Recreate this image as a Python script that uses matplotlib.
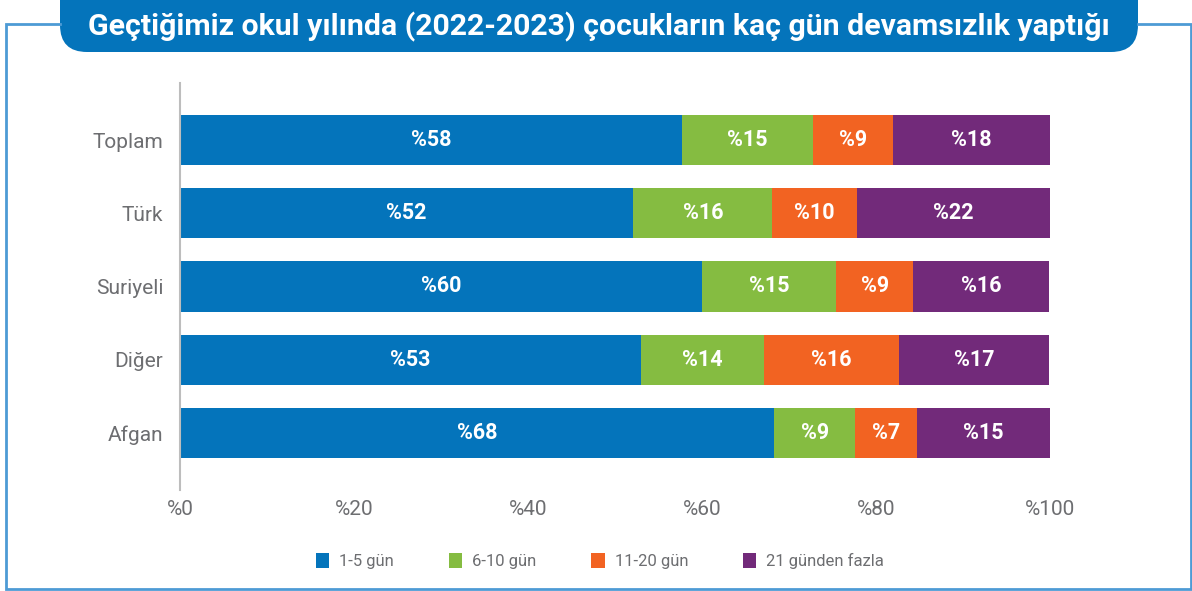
import numpy as np
import matplotlib
matplotlib.use("Agg")
import matplotlib.pyplot as plt
from matplotlib.patches import FancyBboxPatch

plt.rcParams['font.family'] = ['Roboto', 'DejaVu Sans']

# data (percent of children, by number of absent days)
groups = ['Toplam', 'Türk', 'Suriyeli', 'Diğer', 'Afgan']
series = ['1-5 gün', '6-10 gün', '11-20 gün', '21 günden fazla']
days_1_5 = [57.7, 52.1, 60.0, 53.0, 68.3]
days_6_10 = [15.1, 16.0, 15.4, 14.1, 9.3]
days_11_20 = [9.2, 9.7, 8.9, 15.5, 7.1]
days_21_plus = [18.0, 22.2, 15.6, 17.3, 15.3]
xticks = [0, 20, 40, 60, 80, 100]

colors = ['#0474BB', '#85BC41', '#F26322', '#722A7A']
gray = '#6D6E71'
frame_blue = '#4D9BD5'
title = 'Geçtiğimiz okul yılında (2022-2023) çocukların kaç gün devamsızlık yaptığı'

W, H = 1192, 591
fig = plt.figure(figsize=(W / 100, H / 100), dpi=100)

# background layer in pixel coordinates: frame and title box
bg = fig.add_axes([0, 0, 1, 1], zorder=0)
bg.set_xlim(0, W)
bg.set_ylim(H, 0)
bg.axis('off')
bg.plot([60, 6, 6, 1191, 1191, 1138], [24, 24, 589, 589, 24, 24],
        color=frame_blue, lw=2, solid_joinstyle='miter')
bg.add_patch(FancyBboxPatch((60, -40), 1078, 92,
                            boxstyle='round,pad=0,rounding_size=27',
                            facecolor='#0474BB', edgecolor='none'))
bg.text(599, 27, title, color='white', fontsize=21.8, fontweight='bold',
        ha='center', va='center')

# chart axes
ax = fig.add_axes([180 / W, 1 - 490 / H, 870 / W, 407 / H], zorder=1)
ax.patch.set_alpha(0)
y = np.arange(len(groups))
data = [days_1_5, days_6_10, days_11_20, days_21_plus]
left = np.zeros(len(groups))
handles = []
for vals, name, col in zip(data, series, colors):
    vals = np.array(vals)
    bars = ax.barh(y, vals, left=left, height=0.685, color=col, label=name)
    handles.append(bars)
    for yi, l, v in zip(y, left, vals):
        ax.text(l + v / 2, yi, f'%{round(v):d}', color='white',
                fontsize=15.5, fontweight='bold', ha='center', va='center')
    left += vals

ax.set_xlim(0, 100)
ax.set_ylim(4.78, -0.78)
ax.set_yticks(y)
ax.set_yticklabels(groups, fontsize=15, color=gray)
ax.set_xticks(xticks)
ax.set_xticklabels([f'%{t}' for t in xticks], fontsize=15, color=gray)
ax.tick_params(axis='y', length=0, pad=12)
ax.tick_params(axis='x', length=0, pad=7)
for s in ['top', 'right', 'bottom']:
    ax.spines[s].set_visible(False)
ax.spines['left'].set_color('#BDBDBD')
ax.spines['left'].set_linewidth(1.5)

leg = fig.legend(handles=handles, labels=series, loc='center',
                 bbox_to_anchor=(600 / W, 1 - 561 / H), ncol=4, frameon=False,
                 fontsize=12, handlelength=0.8, handleheight=1.0,
                 handletextpad=0.6, columnspacing=3.3)
for t in leg.get_texts():
    t.set_color(gray)

fig.savefig('out.png', dpi=100)
